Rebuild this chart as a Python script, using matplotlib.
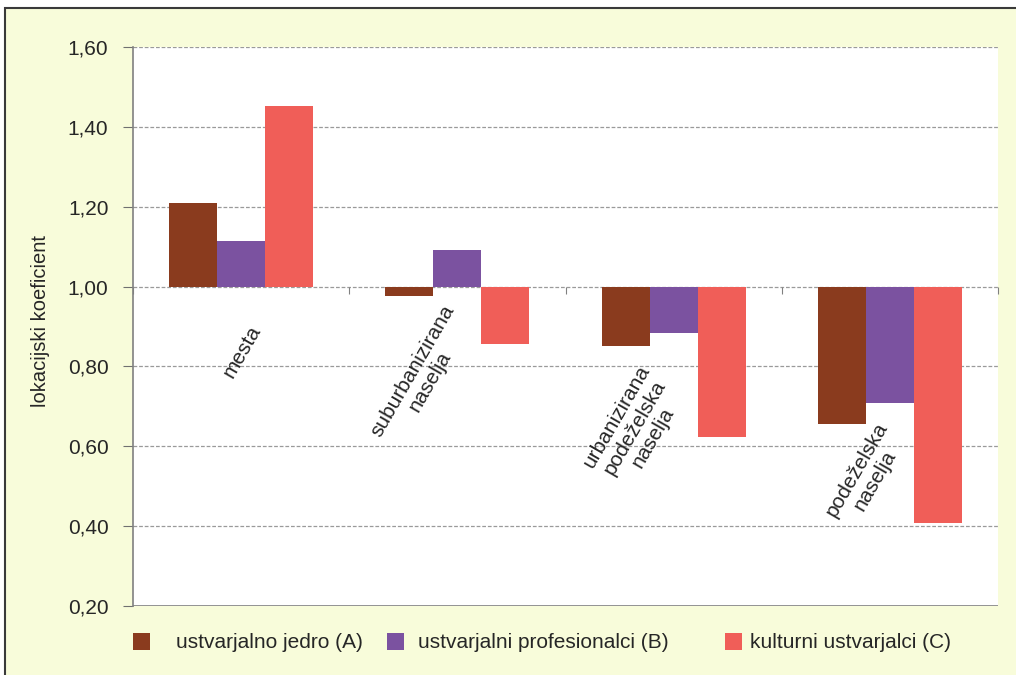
import numpy as np
import matplotlib
matplotlib.use("Agg")
import matplotlib.pyplot as plt
from matplotlib.patches import Rectangle
from matplotlib.ticker import FuncFormatter

plt.rcParams['font.family'] = ['Liberation Sans', 'DejaVu Sans']

# data
categories = ["mesta", "suburbanizirana\nnaselja", "urbanizirana\npodeželska\nnaselja", "podeželska\nnaselja"]
series_names = ["ustvarjalno jedro (A)", "ustvarjalni profesionalci (B)", "kulturni ustvarjalci (C)"]
jedro_a = [1.21, 0.976, 0.852, 0.656]
profesionalci_b = [1.113, 1.092, 0.884, 0.708]
kulturni_c = [1.452, 0.856, 0.623, 0.409]
baseline = 1.0

colors = ['#8A3B1E', '#7B52A0', '#F05E58']
bg = '#F8FCDA'

fig = plt.figure(figsize=(10.16, 6.75), dpi=100, facecolor='white')
fig.patches.append(Rectangle((5/1016, -0.05), 1.2, 1 - 8/675 + 0.05, transform=fig.transFigure,
                             facecolor=bg, edgecolor='#3A3A3A', lw=1.5, zorder=-10))

ax = fig.add_axes([133/1016, 1 - 606/675, 865/1016, 559/675])
ax.set_facecolor('white')

x = np.arange(len(categories))
w = 0.222
for k, vals in enumerate([jedro_a, profesionalci_b, kulturni_c]):
    vals = np.array(vals)
    ax.bar(x + (k - 1) * w, vals - baseline, w, bottom=baseline, color=colors[k], zorder=3)

ax.set_xlim(-0.5, len(categories) - 0.5)
ax.set_ylim(0.2, 1.6)
ax.set_yticks(np.arange(0.2, 1.61, 0.2))
ax.yaxis.set_major_formatter(FuncFormatter(lambda v, p: f"{v:.2f}".replace('.', ',')))
ax.tick_params(axis='y', direction='out', length=7.2, color='#707070', labelsize=15,
               labelcolor='#262626', pad=10.5)

# gridlines (including the 1,00 line)
for v in np.arange(0.4, 1.61, 0.2):
    ax.axhline(v, color='#9A9A9A', lw=0.9, ls=(0, (3, 1.5)), zorder=1)
ax.axhline(0.2, color='#808080', lw=1.2, zorder=2)

# category axis sitting on the baseline
ax.spines['bottom'].set_position(('data', baseline))
ax.spines['bottom'].set_visible(False)
ax.spines['top'].set_visible(False)
ax.spines['right'].set_visible(False)
ax.spines['left'].set_color('#808080')
ax.spines['left'].set_linewidth(1.2)
ax.set_xticks(np.arange(len(categories) + 1) - 0.5)
ax.set_xticklabels([])
ax.tick_params(axis='x', direction='out', length=5, color='#808080')

# rotated category labels (placed as in the original)
label_pos = [(0.005, 0.836), (-0.166, 0.776), (-0.18, 0.648), (-0.11, 0.528)]
for i, (cat, (dx, yy)) in enumerate(zip(categories, label_pos)):
    ax.text(i + dx, yy, cat, rotation=60, ha='center', va='center', multialignment='center',
            rotation_mode='anchor', fontsize=15, color='#262626', linespacing=1.1, zorder=4)

ax.set_ylabel("lokacijski koeficient", fontsize=14.5, color='#262626')
ax.yaxis.set_label_coords(-0.096, 0.51)

# legend
sq_x = [133, 387, 725]
tx_x = [176, 418, 750]
for k in range(3):
    fig.patches.append(Rectangle((sq_x[k]/1016, 1 - 650/675), 17/1016, 17/675,
                                 transform=fig.transFigure, facecolor=colors[k], edgecolor='none'))
    fig.text(tx_x[k]/1016, 1 - 642/675, series_names[k], fontsize=15, color='#262626',
             va='center', ha='left', family=['Liberation Sans Narrow', 'Liberation Sans'])

fig.savefig("out.png", dpi=100, facecolor=fig.get_facecolor())
